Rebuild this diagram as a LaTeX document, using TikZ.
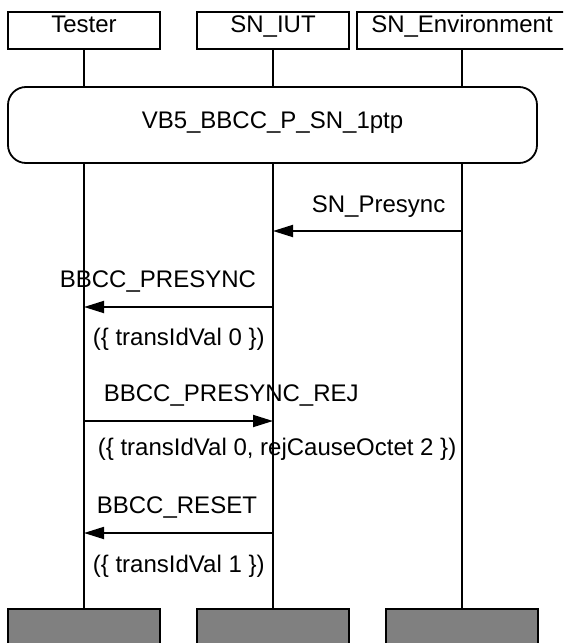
\documentclass[tikz,border=0pt]{standalone}
\usepackage{fontspec}
\setmainfont{Liberation Sans}
\usetikzlibrary{arrows.meta}

\begin{document}
\begin{tikzpicture}[x=0.5pt, y=-0.5pt, line width=0.9pt,
    font=\fontsize{12pt}{14pt}\selectfont,
    headbox/.style={draw, fill=white, inner sep=0pt, minimum width=76pt, minimum height=18.5pt, text height=8.6pt, text depth=6.4pt},
    tailbox/.style={draw, fill=gray, inner sep=0pt, minimum width=76pt, minimum height=18.5pt},
    refbox/.style={draw, fill=white, rounded corners=9pt, inner sep=0pt, minimum width=264.5pt, minimum height=38pt, text height=8.6pt, text depth=5.6pt},
    msg/.style={-{Triangle[length=10pt, width=6pt]}},
    lbl/.style={anchor=base west, inner sep=0pt}]
    \useasboundingbox (0,0) rectangle (563,643);
    \clip (0,0) rectangle (563,643);

    % Instance heads and ends
    \node[headbox] (tester) at (84,30.5) {Tester};
    \node[headbox] (iut) at (273,30.5) {SN\_IUT};
    \node[headbox, minimum width=105pt] (env) at (462,30.5) {SN\_Environment};
    \node[tailbox] (testerend) at (84,627.5) {};
    \node[tailbox] (iutend) at (273,627.5) {};
    \node[tailbox] (envend) at (462,627.5) {};

    % Lifelines
    \draw (tester.south) -- (testerend.north);
    \draw (iut.south) -- (iutend.north);
    \draw (env.south) -- (envend.north);

    % Reference
    \node[refbox] (ref) at (272.5,125) {VB5\_BBCC\_P\_SN\_1ptp};

    % Messages
    \draw[msg] (env |- 0,231) -- (iut |- 0,231);
    \node[lbl] (presync) at (311,212) {SN\_Presync};

    \draw[msg] (iut |- 0,307) -- (tester |- 0,307);
    \node[lbl] (bbpresync) at (59,287) {BBCC\_PRESYNC};
    \node[lbl] (bbpresyncpar) at (92,345) {(\{ transIdVal 0 \})};

    \draw[msg] (tester |- 0,421) -- (iut |- 0,421);
    \node[lbl] (bbrej) at (103,401) {BBCC\_PRESYNC\_REJ};
    \node[lbl] (bbrejpar) at (97,455) {(\{ transIdVal 0, rejCauseOctet 2 \})};

    \draw[msg] (iut |- 0,533) -- (tester |- 0,533);
    \node[lbl] (bbreset) at (96,513) {BBCC\_RESET};
    \node[lbl] (bbresetpar) at (92,572) {(\{ transIdVal 1 \})};

\end{tikzpicture}
\end{document}
